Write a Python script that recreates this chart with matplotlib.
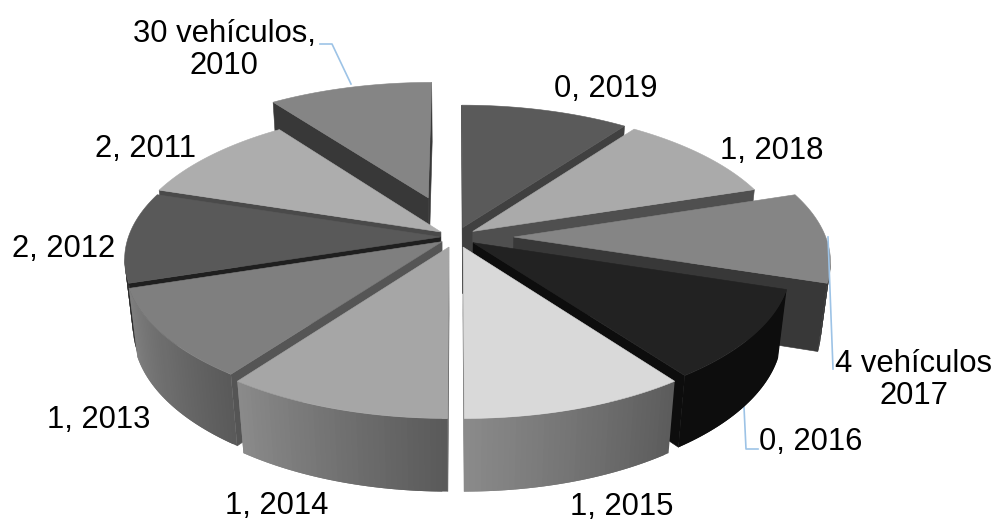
"""
Exploded 3D pie of vehicles per year, drawn as projected polygons.
"""

import matplotlib
matplotlib.use('Agg')
import matplotlib.pyplot as plt
from matplotlib.patches import Polygon
import numpy as np

# Data, clockwise from the top of the pie
years = [2019, 2018, 2017, 2016, 2015, 2014, 2013, 2012, 2011, 2010]
vehicles = [0, 1, 4, 0, 1, 1, 1, 2, 2, 30]
shares = [1, 1, 1, 1, 1, 1, 1, 1, 1, 1]  # slices are all drawn the same size
label_text = ['0, 2019', '1, 2018', '4 vehículos\n2017', '0, 2016', '1, 2015',
              '1, 2014', '1, 2013', '2, 2012', '2, 2011', '30 vehículos,\n2010']

explode = [0.07, 0.067, 0.185, 0.067, 0.073, 0.073, 0.055, 0.05, 0.06, 0.30]
top_colors = ['#5a5a5a', '#aaaaaa', '#858585', '#222222', '#d9d9d9',
              '#a6a6a6', '#7f7f7f', '#595959', '#adadad', '#858585']
wall_colors = ['#404040', '#4f4f4f', '#383838', '#0d0d0d', '#6a6a6a',
               '#5a5a5a', '#555555', '#1f1f1f', '#4a4a4a', '#383838']
rim_right = ['#404040', '#4f4f4f', '#383838', '#0d0d0d', '#5c5c5c',
             '#5a5a5a', '#5a5a5a', '#2a2a2a', '#4a4a4a', '#383838']
rim_left = ['#404040', '#4f4f4f', '#383838', '#0d0d0d', '#8a8a8a',
            '#8a8a8a', '#808080', '#2a2a2a', '#4a4a4a', '#383838']

label_x = [606, 772, 914, 811, 622, 277, 99, 64, 146, 224]
label_y = [89, 151, 380, 442, 507, 506, 420, 249, 149, 50]

# Leader lines, the 2017 one runs over its slice
leaders = [([320, 332, 351], [44, 44, 84]),
           ([828, 833], [237, 369]),
           ([744, 746, 758], [407, 449, 449])]
leader_z = [1, 15, 1]

# Projection settings
CX, CY = 456, 237
RX, RY = 312, 143
PERSP = 0.147
DEPTH = 68
DEPTH_PERSP = 0.025


def project(x, y, z=0):
    """World coordinates (unit pie, z=1 is the underside) to picture pixels."""
    w = 1 + PERSP * y + DEPTH_PERSP * z
    return CX + RX * x / w, CY + (-RY * y + DEPTH * z) / w


def faces_viewer(nx, ny, px, py):
    """True if a side with outward normal (nx, ny) at (px, py) can be seen."""
    return nx * (0 - px) + ny * (-1 / PERSP - py) > 0


def quad(ax, pts, color, zorder, lw=0.4):
    xy = [project(*p) for p in pts]
    ax.add_patch(Polygon(xy, closed=True, facecolor=color, edgecolor=color if lw else 'none',
                         linewidth=lw, zorder=zorder))


def draw_slice(ax, start, end, i, zorder):
    mid = (start + end) / 2
    ox = explode[i] * np.sin(mid)
    oy = explode[i] * np.cos(mid)
    angles = np.linspace(start, end, 41)
    rim = [(ox + np.sin(a), oy + np.cos(a)) for a in angles]
    apex = (ox, oy)

    # radial walls
    for p, nx, ny in [(rim[0], -np.cos(start), np.sin(start)),
                      (rim[-1], np.cos(end), -np.sin(end))]:
        if faces_viewer(nx, ny, *p):
            quad(ax, [(*apex, 0), (*p, 0), (*p, 1), (*apex, 1)], wall_colors[i], zorder)

    # curved outer side, shaded across the slice; each strip overlaps the next
    c0 = np.array(matplotlib.colors.to_rgb(rim_right[i]))
    c1 = np.array(matplotlib.colors.to_rgb(rim_left[i]))
    for k in range(len(rim) - 1):
        a = (angles[k] + angles[k + 1]) / 2
        if faces_viewer(np.sin(a), np.cos(a), *rim[k]):
            t = k / (len(rim) - 2)
            n = min(k + 2, len(rim) - 1)
            quad(ax, [(*rim[k], 0), (*rim[n], 0), (*rim[n], 1), (*rim[k], 1)],
                 tuple(c0 + (c1 - c0) * t), zorder, lw=0)

    # top surface
    quad(ax, [(*apex, 0)] + [(*p, 0) for p in rim], top_colors[i], zorder)


fig = plt.figure(figsize=(9.98, 5.23), dpi=100)
ax = fig.add_axes([0, 0, 1, 1])
ax.set_xlim(0, 998)
ax.set_ylim(523, 0)
ax.axis('off')

for (lx, ly), lz in zip(leaders, leader_z):
    ax.plot(lx, ly, color='#9dc3e6', linewidth=1.2, zorder=lz)

edges = np.cumsum([0] + shares) / sum(shares) * 2 * np.pi
# Paint from the back of the pie to the front
order = sorted(range(len(years)), key=lambda i: -np.cos((edges[i] + edges[i + 1]) / 2))
for z, i in enumerate(order):
    draw_slice(ax, edges[i], edges[i + 1], i, 2 + z)

for i in range(len(years)):
    ax.text(label_x[i], label_y[i], label_text[i], ha='center', va='center',
            fontsize=22.3, family='Liberation Sans', color='black', linespacing=1.12,
            zorder=20)

fig.savefig('out.png', dpi=100, facecolor='white')
